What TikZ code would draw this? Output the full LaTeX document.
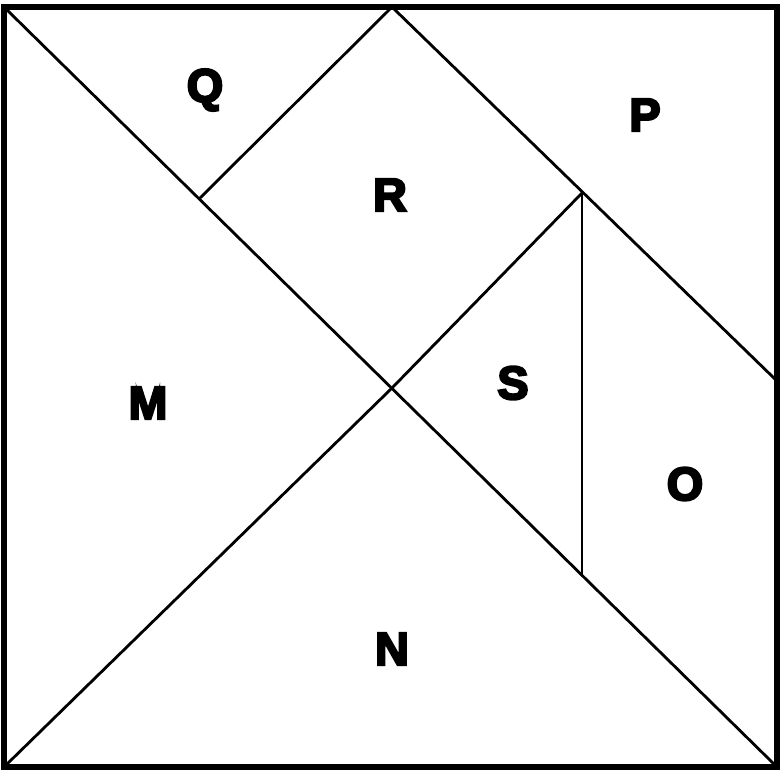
\documentclass[tikz,border=0pt]{standalone}
\usepackage{fontspec}
\setmainfont{Liberation Sans}[BoldFeatures={FakeBold=5}]
\begin{document}
\begin{tikzpicture}[x=0.75pt,y=-0.75pt,
  edge/.style={line width=2.1pt,line cap=round,line join=round},
  frame/.style={line width=4.2pt},
  lab/.style={font=\fontsize{35}{35}\selectfont\bfseries,inner sep=0pt}]
\useasboundingbox (0,0) rectangle (782,776);
\fill[white] (0,0) rectangle (782,776);
\coordinate (TL) at (4,7);
\coordinate (TR) at (777,7);
\coordinate (BR) at (777,767);
\coordinate (BL) at (4,767);
\coordinate (C) at (392,388);
\coordinate (T) at (392,7);
\coordinate (RE) at (777,381);
\coordinate (V) at (582,193);
\coordinate (VB) at (582,575);
\coordinate (QR) at (199,199);
\draw[edge] (TL) -- (BR);
\draw[edge] (BL) -- (C) -- (V);
\draw[edge] (QR) -- (T) -- (RE);
\draw[edge] (V) -- (VB);
\draw[frame] (TL) rectangle (BR);
\node[lab] (q) at (205,90) {Q};
\node[lab] (p) at (645,115) {P};
\node[lab] (r) at (390,195) {R};
\node[lab] (m) at (148,403) {M};
\node[lab] (s) at (513,383) {S};
\node[lab] (o) at (685,484) {O};
\node[lab] (n) at (392,649) {N};
\end{tikzpicture}
\end{document}
